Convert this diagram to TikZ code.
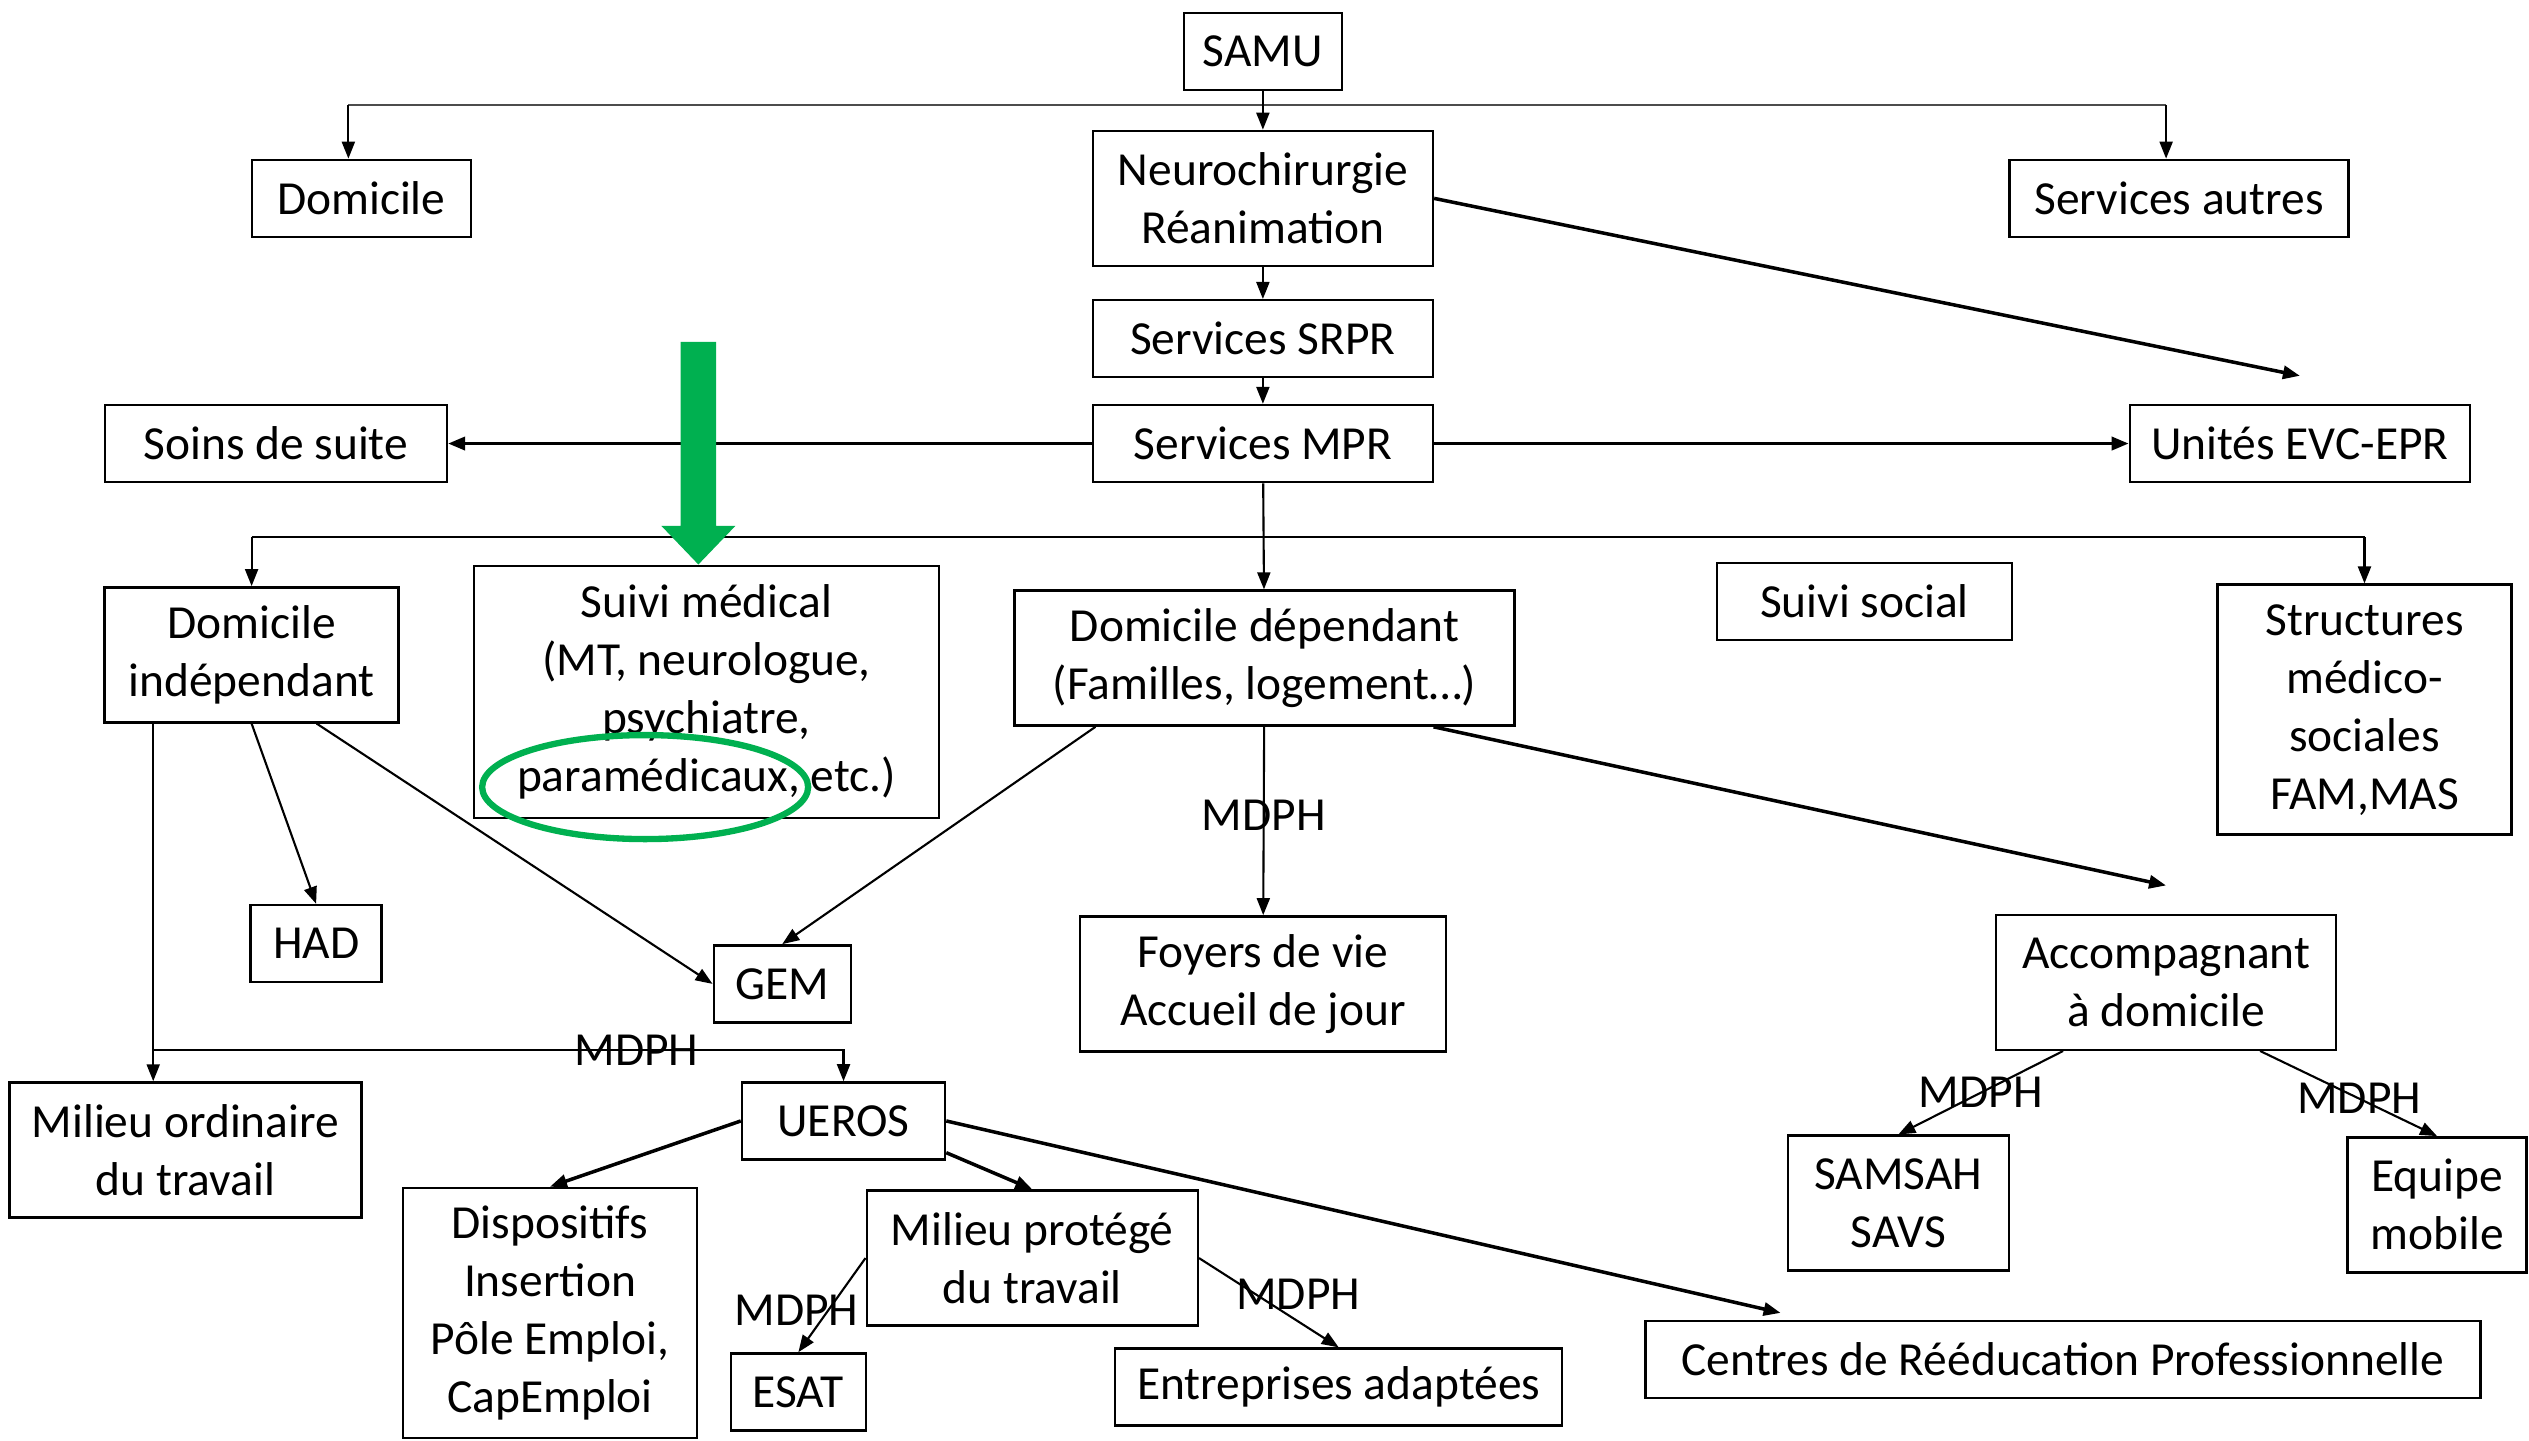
\documentclass[tikz,border=0pt]{standalone}
\usepackage{fontspec}
\setmainfont{Carlito}
\usetikzlibrary{arrows.meta}
\definecolor{offgreen}{HTML}{00B050}

\begin{document}
\begin{tikzpicture}[x=0.016129cm, y=-0.016129cm,
  >={Triangle[length=0.17cm,width=0.13cm]},
  every node/.style={font=\fontsize{13.5pt}{16.5pt}\selectfont, align=center},
  box/.style={draw, line width=0.7pt, inner sep=0pt},
  one/.style={minimum height=0.77cm},
  two/.style={minimum height=1.35cm},
  four/.style={minimum height=2.5cm},
  link/.style={line width=0.6pt},
  main/.style={line width=1pt}]

 \useasboundingbox (0,0) rectangle (1568,893);

 \node[box,one,minimum width=1.58cm] (samu) at (783,32) {SAMU};
 \node[box,one,minimum width=2.19cm] (dom) at (224,123) {Domicile};
 \node[box,two,minimum width=3.40cm] (neuro) at (783,123) {Neurochirurgie\\Réanimation};
 \node[box,one,minimum width=3.39cm] (autres) at (1351,123) {Services autres};

 \node[box,one,minimum width=3.40cm] (srpr) at (783,210) {Services SRPR};
 \node[box,one,minimum width=3.42cm] (soins) at (171,275) {Soins de suite};
 \node[box,one,minimum width=3.40cm] (mpr) at (783,275) {Services MPR};
 \node[box,one,minimum width=3.40cm] (evc) at (1426,275) {Unités EVC-EPR};

 \node[box,two,minimum width=2.94cm] (dind) at (156,406) {Domicile\\indépendant};
 \node[box,minimum width=4.65cm,minimum height=2.52cm] (suivi) at (438,429) {Suivi médical\\(MT, neurologue,\\psychiatre,\\paramédicaux, etc.)};
 \node[box,two,minimum width=5.00cm] (ddep) at (784,408) {Domicile dépendant\\(Familles, logement…)};
 \node[box,one,minimum width=2.95cm] (social) at (1156,373) {Suivi social};
 \node[box,four,minimum width=2.94cm] (struct) at (1466,440) {Structures\\médico-\\sociales\\FAM,MAS};

 \node[box,one,minimum width=1.31cm] (had) at (196,585) {HAD};
 \node[box,one,minimum width=1.37cm] (gem) at (485,610) {GEM};
 \node[box,two,minimum width=3.66cm] (foyers) at (783,610) {Foyers de vie\\Accueil de jour};
 \node[box,two,minimum width=3.40cm] (accomp) at (1343,609) {Accompagnant\\à domicile};

 \node[box,two,minimum width=3.52cm] (ordin) at (115,713) {Milieu ordinaire\\du travail};
 \node[box,one,minimum width=2.03cm] (ueros) at (523,695) {UEROS};
 \node[box,four,minimum width=2.94cm] (dispo) at (341,814) {Dispositifs\\Insertion\\Pôle Emploi,\\CapEmploi};
 \node[box,two,minimum width=3.31cm] (protege) at (640,780) {Milieu protégé\\du travail};
 \node[box,one,minimum width=1.35cm] (esat) at (495,863) {ESAT};
 \node[box,one,minimum width=4.47cm] (adapt) at (830,860) {Entreprises adaptées};
 \node[box,one,minimum width=8.35cm] (crp) at (1279,843) {Centres de Rééducation Professionnelle};
 \node[box,two,minimum width=2.21cm] (samsah) at (1177,746) {SAMSAH\\SAVS};
 \node[box,two,minimum width=1.79cm] (equipe) at (1511,747) {Equipe\\mobile};

 % top branches
 \coordinate (sl) at (216,65);
 \coordinate (sr) at (1343,65);
 \draw [link, black!70] (sl) -- (sr);
 \draw [link,->] (sl) -- (sl |- dom.north);
 \draw [link,->] (sr) -- (sr |- autres.north);
 \draw [link,->] (samu) -- (neuro);
 \draw [link,->] (neuro) -- (srpr);
 \draw [link,->] (srpr) -- (mpr);

 \coordinate (evcend) at (1426,233);
 \draw [main,->] (neuro.east) -- (evcend);
 \draw [main,->] (mpr) -- (soins);
 \draw [main,->] (mpr) -- (evc);
 \draw [link,->] (mpr) -- (ddep);

 \coordinate (ml) at (156,333);
 \coordinate (mr) at (1466,333);
 \draw [link] (ml) -- (mr);
 \draw [link,->] (ml) -- (dind);
 \draw [link,->] (mr) -- (struct);

 % domicile independant
 \draw [link,->] (dind.south) -- (had.north);
 \draw [link,->] ([xshift=0.65cm]dind.south) -- (gem.west);
 \coordinate (split) at (95,651);
 \draw [link] (dind.south -| split) -- (split);
 \draw [link,->] (split) -- (split |- ordin.north);
 \draw [link,->] (split) -| node[pos=0.35] {MDPH} (ueros.north);

 % domicile dependant
 \draw [link,->] ([xshift=-1.69cm]ddep.south) -- (gem.north);
 \draw [link,->] (ddep) -- node[pos=0.47] {MDPH} (foyers);
 \coordinate (accend) at (1343,549);
 \draw [main,->] ([xshift=1.69cm]ddep.south) -- (accend);

 % UEROS
 \draw [main,->] (ueros.west) -- (dispo.north);
 \draw [main,->] ([yshift=0.08cm]ueros.south east) -- (protege.north);
 \coordinate (crpend) at (1104,814);
 \draw [main,->] (ueros.east) -- (crpend);

 \draw [link,->] (protege.west) -- node[pos=0.55,xshift=-0.32cm] {MDPH} (esat.north);
 \draw [link,->] (protege.east) -- node[pos=0.41,xshift=0.42cm] {MDPH} (adapt.north);

 \draw [link,->] ([xshift=-1.03cm]accomp.south) -- node[pos=0.5] {MDPH} (samsah.north);
 \draw [link,->] ([xshift=0.94cm]accomp.south) -- node[pos=0.56] {MDPH} (equipe.north);

 % green marks
 \fill [offgreen] (422,212) -- (444,212) -- (444,326) -- (456,326) -- (433,350)
   -- (410,326) -- (422,326) -- cycle;
 \draw [offgreen, line width=1.8pt] (400,488) ellipse [x radius=1.63cm, y radius=0.52cm];
\end{tikzpicture}
\end{document}
